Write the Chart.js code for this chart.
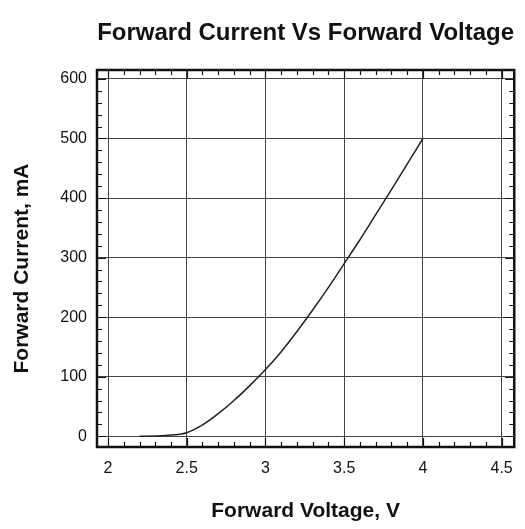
<!DOCTYPE html>
<html>
<head>
<meta charset="utf-8">
<script src="https://cdn.jsdelivr.net/npm/chart.js@4.4.1/dist/chart.umd.min.js"></script>
<style>
  html, body { margin: 0; padding: 0; background: #fff; }
  #wrap { width: 525px; height: 529px; }
</style>
</head>
<body>
<div id="wrap"><canvas id="chart" width="525" height="529"></canvas></div>
<script>
// data
const voltage = [2.2, 2.3, 2.4, 2.5, 2.6, 2.7, 2.8, 2.9, 3.0, 3.1, 3.2, 3.3, 3.4, 3.5, 3.6, 3.7, 3.8, 3.9, 4.0];
const current = [0, 0.5, 2, 6, 19, 38, 60, 85, 112, 142, 176, 212, 250, 290, 330, 372, 414, 457, 500];
const xTicks = [2, 2.5, 3, 3.5, 4, 4.5];
const yTicks = [0, 100, 200, 300, 400, 500, 600];

const chartTitle = "Forward Current Vs Forward Voltage";
const xLabel = "Forward Voltage, V";
const yLabel = "Forward Current, mA";

const FONT = "'Liberation Sans', Arial, sans-serif";
const points = voltage.map((v, i) => ({ x: v, y: current[i] }));

// frame with inward ticks on all four sides, title and y label
const framePlugin = {
  id: "frame",
  afterDraw(chart) {
    const { ctx, chartArea: a, scales } = chart;
    const xs = scales.x, ys = scales.y;
    ctx.save();
    ctx.strokeStyle = "#111";
    ctx.lineWidth = 1.2;
    ctx.beginPath();
    for (let v = 2.0; v <= 4.5001; v += 0.1) {
      const px = Math.round(xs.getPixelForValue(v)) + 0.5;
      const major = Math.abs(v * 2 - Math.round(v * 2)) < 1e-6;
      const len = major ? 9 : 5;
      ctx.moveTo(px, a.bottom); ctx.lineTo(px, a.bottom - len);
      ctx.moveTo(px, a.top); ctx.lineTo(px, a.top + len);
    }
    for (let v = 0; v <= 600; v += 20) {
      const py = Math.round(ys.getPixelForValue(v)) + 0.5;
      const major = v % 100 === 0;
      const len = major ? 9 : 5;
      ctx.moveTo(a.left, py); ctx.lineTo(a.left + len, py);
      ctx.moveTo(a.right, py); ctx.lineTo(a.right - len, py);
    }
    ctx.stroke();
    ctx.lineWidth = 2.5;
    ctx.strokeRect(a.left, a.top, a.right - a.left, a.bottom - a.top);

    ctx.fillStyle = "#111";
    ctx.textAlign = "center";
    ctx.textBaseline = "middle";
    ctx.font = "bold 24px " + FONT;
    ctx.fillText(chartTitle, (a.left + a.right) / 2, 33);

    ctx.font = "bold 21px " + FONT;
    ctx.translate(22, (a.top + a.bottom) / 2 + 10);
    ctx.rotate(-Math.PI / 2);
    ctx.fillText(yLabel, 0, 0);
    ctx.restore();
  }
};

new Chart(document.getElementById("chart"), {
  type: "line",
  data: {
    datasets: [{
      data: points,
      borderColor: "#222",
      borderWidth: 1.5,
      pointRadius: 0,
      cubicInterpolationMode: "monotone",
      fill: false,
    }],
  },
  options: {
    responsive: false,
    animation: false,
    layout: { padding: { left: 0, top: 70, right: 8, bottom: 0 } },
    plugins: {
      legend: { display: false },
      tooltip: { enabled: false },
    },
    scales: {
      x: {
        type: "linear",
        min: 1.93,
        max: 4.58,
        afterBuildTicks: (s) => { s.ticks = xTicks.map((v) => ({ value: v })); },
        afterFit: (s) => { s.height = 82; },
        grid: { color: "#444", lineWidth: 1, drawTicks: false },
        border: { display: false },
        ticks: {
          color: "#111",
          padding: 12,
          maxRotation: 0,
          font: { family: FONT, size: 16 },
          callback: (v) => String(v),
        },
        title: {
          display: true,
          text: xLabel,
          color: "#111",
          padding: { top: 10, bottom: 5 },
          font: { family: FONT, size: 21, weight: "bold" },
        },
      },
      y: {
        type: "linear",
        min: -18,
        max: 615,
        afterBuildTicks: (s) => { s.ticks = yTicks.map((v) => ({ value: v })); },
        afterFit: (s) => { s.width = 97; },
        grid: { color: "#444", lineWidth: 1, drawTicks: false },
        border: { display: false },
        ticks: {
          color: "#111",
          padding: 10,
          font: { family: FONT, size: 16 },
          callback: (v) => String(v),
        },
      },
    },
  },
  plugins: [framePlugin],
});
</script>
</body>
</html>
